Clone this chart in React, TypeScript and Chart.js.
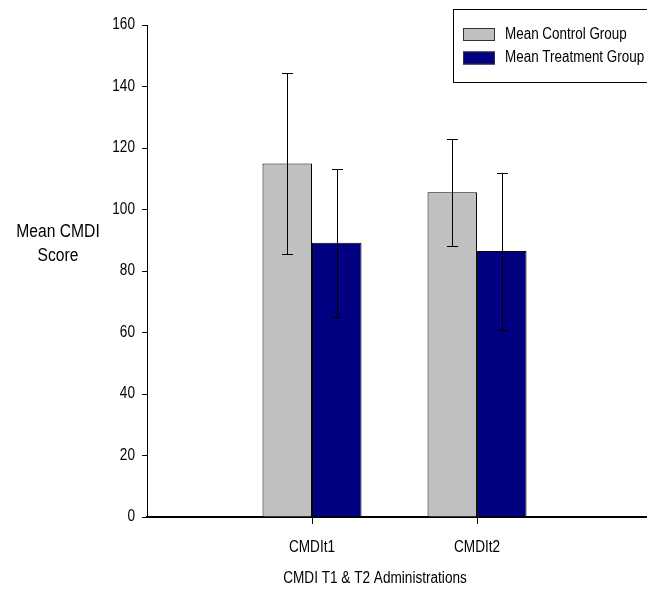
import React, { useEffect, useRef } from 'react';
import { Chart, registerables } from 'chart.js';

Chart.register(...registerables);

const categories = ['CMDIt1', 'CMDIt2'];
const seriesNames = ['Mean Control Group', 'Mean Treatment Group'];
const controlMeans = [115, 105.6];
const treatmentMeans = [89.2, 86.5];
const controlLow = [85.5, 88.1];
const controlHigh = [144.4, 122.9];
const treatmentLow = [65.1, 60.8];
const treatmentHigh = [113.1, 112];
const yMin = 0;
const yMax = 160;
const yStep = 20;
const yTitleLines = ['Mean CMDI', 'Score'];
const xTitle = 'CMDI T1 & T2 Administrations';

const FONT = "'Liberation Sans', Arial, sans-serif";
const seriesColors = ['#C0C0C0', '#000080'];
const lows = [controlLow, treatmentLow];
const highs = [controlHigh, treatmentHigh];

function condensedText(ctx: any, text: string, x: number, y: number, size: number, sx: number, align: string) {
  ctx.save();
  ctx.font = `${size}px ${FONT}`;
  ctx.textAlign = align;
  ctx.textBaseline = 'middle';
  ctx.fillStyle = '#000';
  ctx.translate(x, y);
  ctx.scale(sx, 1);
  ctx.fillText(text, 0, 0);
  ctx.restore();
}

const errorBarPlugin = {
  id: 'errorBars',
  afterDatasetsDraw(chart: any) {
    const ctx = chart.ctx;
    const yScale = chart.scales.y;
    ctx.save();
    ctx.strokeStyle = '#000';
    ctx.lineWidth = 1;
    chart.data.datasets.forEach((_: any, di: number) => {
      const meta = chart.getDatasetMeta(di);
      meta.data.forEach((el: any, j: number) => {
        const x = Math.round(el.x) + 0.5;
        const yl = Math.round(yScale.getPixelForValue(lows[di][j])) + 0.5;
        const yh = Math.round(yScale.getPixelForValue(highs[di][j])) + 0.5;
        ctx.beginPath();
        ctx.moveTo(x, yl);
        ctx.lineTo(x, yh);
        ctx.moveTo(x - 5.5, yl);
        ctx.lineTo(x + 5.5, yl);
        ctx.moveTo(x - 5.5, yh);
        ctx.lineTo(x + 5.5, yh);
        ctx.stroke();
      });
    });
    ctx.restore();
  },
};

const decorPlugin = {
  id: 'decor',
  afterDraw(chart: any) {
    const ctx = chart.ctx;
    const xs = chart.scales.x;
    const ys = chart.scales.y;
    // tick labels (condensed, like the reference)
    ys.ticks.forEach((t: any) => {
      condensedText(ctx, String(t.label), ys.right - 12, ys.getPixelForValue(t.value), 16, 0.85, 'right');
    });
    xs.ticks.forEach((t: any) => {
      condensedText(ctx, String(t.label), xs.getPixelForValue(t.value), xs.top + 31, 16, 0.85, 'center');
    });
    condensedText(ctx, yTitleLines[0], 58, 232, 18, 0.87, 'center');
    condensedText(ctx, yTitleLines[1], 58, 256, 18, 0.87, 'center');
    condensedText(ctx, xTitle, 375, 579, 16, 0.85, 'center');

    // legend
    ctx.save();
    ctx.strokeStyle = '#000';
    ctx.lineWidth = 1;
    ctx.strokeRect(453.5, 9.5, 260, 73);
    const rows = [34.5, 58];
    seriesNames.forEach((name, i) => {
      ctx.fillStyle = seriesColors[i];
      ctx.fillRect(463, rows[i] - 6.5, 32, 13);
      ctx.strokeStyle = '#333';
      ctx.strokeRect(463.5, rows[i] - 6, 31, 12);
      condensedText(ctx, name, 505, rows[i], 16, 0.84, 'left');
    });
    ctx.restore();
  },
};

export default function App() {
  const ref = useRef<HTMLCanvasElement>(null);
  useEffect(() => {
    document.body.style.margin = '0';
    const meansList = [controlMeans, treatmentMeans];
    const chart = new Chart(ref.current!, {
      type: 'bar',
      data: {
        datasets: seriesNames.map((name, di) => ({
          label: name,
          data: categories.map((_, i) => ({ x: i + 1, y: meansList[di][i] })),
          backgroundColor: seriesColors[di],
          borderColor: '#000',
          borderWidth: 1,
          categoryPercentage: 0.6,
          barPercentage: 1,
        })),
      },
      options: {
        responsive: false,
        animation: false,
        devicePixelRatio: 1,
        layout: { padding: { left: 0, right: 0, top: 25, bottom: 0 } },
        plugins: { legend: { display: false }, tooltip: { enabled: false } },
        scales: {
          x: {
            type: 'linear',
            offset: false,
            min: 0,
            max: 3.03,
            afterBuildTicks: (scale: any) => {
              scale.ticks = categories.map((_, i) => ({ value: i + 1 }));
            },
            afterFit: (scale: any) => {
              scale.height = 82;
            },
            ticks: {
              autoSkip: false,
              maxRotation: 0,
              padding: 16,
              color: 'rgba(0,0,0,0)',
              font: { family: FONT, size: 14 },
              callback: (v: any) => categories[Number(v) - 1] ?? '',
            },
            grid: { offset: false, drawOnChartArea: false, drawTicks: true, tickLength: 7, color: '#000' },
            border: { display: true, color: '#000', width: 2 },
          },
          y: {
            min: yMin,
            max: yMax,
            afterFit: (scale: any) => {
              scale.width = 147;
            },
            ticks: {
              stepSize: yStep,
              padding: 7,
              color: 'rgba(0,0,0,0)',
              font: { family: FONT, size: 14 },
            },
            grid: { drawOnChartArea: false, drawTicks: true, tickLength: 5, color: '#000' },
            border: { display: true, color: '#000', width: 1 },
          },
        },
      },
      plugins: [errorBarPlugin, decorPlugin],
    });
    return () => chart.destroy();
  }, []);
  return (
    <div style={{ width: 647, height: 599, background: '#fff' }}>
      <canvas ref={ref} width={647} height={599} />
    </div>
  );
}
